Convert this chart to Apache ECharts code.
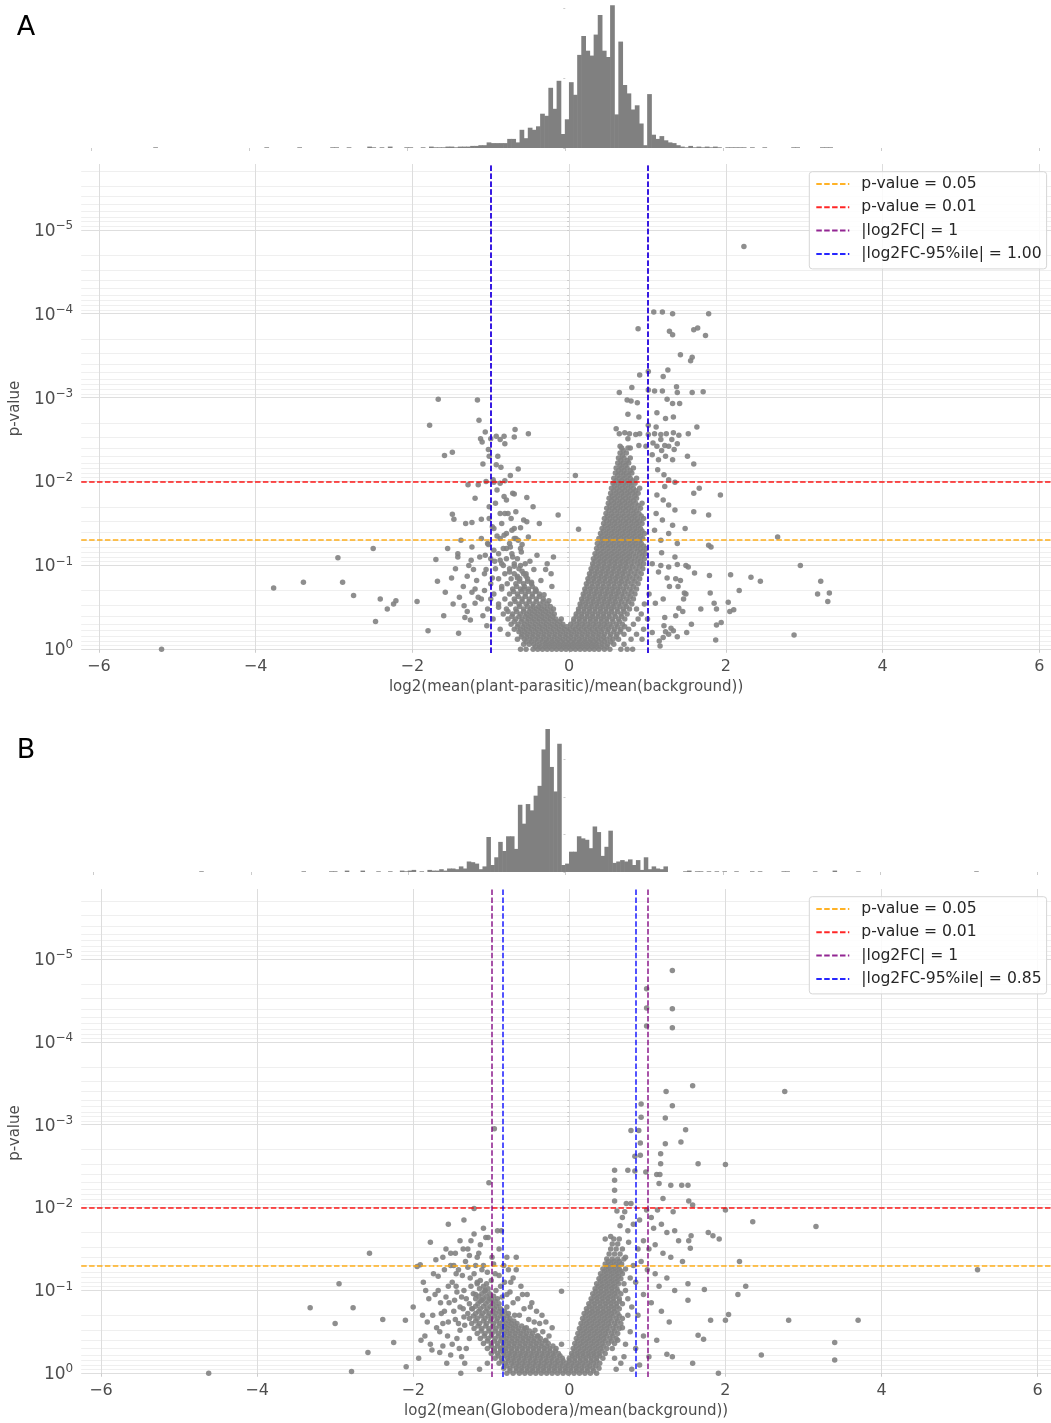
<!DOCTYPE html>
<html><head><meta charset="utf-8">
<script src="https://cdn.jsdelivr.net/npm/echarts@6/dist/echarts.min.js"></script>
<style>html,body{margin:0;padding:0;background:#fff}#c{width:1051px;height:1423px}</style>
</head><body><div id="c"></div>
<script>
// ---------------- DATA ----------------
const xTicks = [-6, -4, -2, 0, 2, 4, 6];
const yDecades = [0, 1, 2, 3, 4, 5];           // -log10(p) of labelled ticks
const pThresholds = [0.05, 0.01];
const fcThreshold = 1;
const fc95A = 1.00;
const fc95B = 0.85;
const xLabelA = 'log2(mean(plant-parasitic)/mean(background))';
const xLabelB = 'log2(mean(Globodera)/mean(background))';

// histogram A: bin start, width, counts
const histA_start = -5.268, histA_width = 0.0521;
const histA_counts = [0,1,0,0,0,0,0,0,0,0, 0,0,0,0,0,0,0,0,0,0, 0,0,0,0,0,0,0,0,1,0,
 0,0,0,0,0,0,1,0,0,0, 0,0,0,0,1,1,0,0,1,0, 0,0,0,2,1,0,1,0,2,0, 0,0,1,1,0,0,1,0,2,1,
 1,1,2,2,1,2,2,2,3,3, 4,4,
 8,7,7,7,7,13,13,8,26,14, 29,26,31,49,46,86,56,96,20,41, 94,76,133,160,139,132,162,190,139,130,
 204,48,152,90,78,55,61,35,4,77, 19,13,17,11,8,7,4,2,1,3, 1,
 2,1,2,1,2,1,0,1,1,1, 1,1,0,1,0,0,1,0,0,0, 0,0,0,1,1,0,0,0,0,0, 1,1,1];

// histogram B
const histB_start = -4.655, histB_width = 0.05;
const histB_counts = [1,0,0,0,0,0,0,0,0,0, 0,0,0,0,0,0,0,0,0,0, 0,0,0,0,0,0,1,0,0,0,
 0,0,0,1,1,0,0,2,0,0, 0,2,0,0,0,1,0,0,1,0, 0,2,1,
 2,3,0,1,0,3,2,2,4,2, 5,5,4,8,5,15,14,12,4,8, 50,10,21,43,30,51,51,33,96,69, 97,88,109,123,175,204,150,115,183,
 10,12,29,29,51,48,46,34,65,57, 23,36,59,13,15,17,15,18,10,17, 3,21,4,8,5,4,8,0,0,0, 0,1,2,
 0,1,1,0,1,0,1,0,1,0, 0,1,0,0,0,1,0,1,0,0, 0,0,0,1,1,0,0,0,0,0, 0,1,0,0,0,0,2,0,0,0,
 0,0,1,0,0,0,0,0,0,0, 0,0,0,0,0,0,0,0,0,0, 0,0,0,0,0,0,0,0,0,0, 0,0,1];
const histA_ticks = [0, 100, 200];
const histB_ticks = [0, 53.5, 107, 160.5];

// volcano A: dense rows [y, x1, x2, ...] and individual points [x, y]   (y = -log10 p)
const scatterA_rows = [
[0.00,-0.46,-0.40,-0.34,-0.28,-0.22,-0.16,-0.10,-0.04,0.02,0.08,0.14,0.20,0.26,0.32,0.38,0.45,0.52,-0.55,-0.62,0.66,0.74,0.81],
[0.03,-0.43,-0.37,-0.31,-0.25,-0.19,-0.13,-0.07,-0.01,0.05,0.11,0.17,0.23,0.29,0.35,0.41,0.48],
[0.06,-0.58,-0.51,-0.45,-0.38,-0.31,-0.25,-0.19,-0.13,-0.07,-0.01,0.05,0.11,0.17,0.23,0.29,0.35,0.42,0.49,0.57,0.70],
[0.09,-0.55,-0.48,-0.41,-0.34,-0.28,-0.22,-0.16,-0.10,-0.04,0.02,0.08,0.14,0.20,0.26,0.32,0.38,0.45,0.53],
[0.12,-0.66,-0.57,-0.50,-0.43,-0.36,-0.29,-0.22,-0.15,-0.08,-0.01,0.06,0.13,0.20,0.27,0.34,0.41,0.48,0.56,0.63,0.79,0.93],
[0.15,-0.61,-0.54,-0.47,-0.40,-0.33,-0.26,-0.19,-0.12,-0.05,0.02,0.09,0.16,0.23,0.30,0.37,0.44,0.52,0.60],
[0.18,-0.78,-0.60,-0.53,-0.46,-0.39,-0.32,-0.25,-0.18,-0.11,-0.04,0.03,0.10,0.17,0.24,0.31,0.38,0.45,0.53,0.61,0.70,0.86],
[0.21,-0.64,-0.57,-0.50,-0.43,-0.36,-0.29,-0.22,-0.15,-0.08,-0.01,0.06,0.13,0.20,0.27,0.34,0.41,0.49,0.57,0.65],
[0.24,-0.88,-0.70,-0.62,-0.55,-0.48,-0.41,-0.34,-0.27,-0.20,-0.13,-0.06,0.01,0.08,0.15,0.22,0.29,0.36,0.43,0.50,0.58,0.66,0.76,0.95],
[0.27,-0.66,-0.59,-0.52,-0.45,-0.38,-0.31,-0.24,-0.17,-0.10,-0.03,0.05,0.12,0.19,0.26,0.33,0.40,0.47,0.54,0.62,0.71],
[0.30,-0.74,-0.65,-0.57,-0.50,-0.43,-0.36,-0.29,-0.22,-0.15,-0.08,0.02,0.10,0.17,0.24,0.31,0.38,0.45,0.52,0.60,0.68,0.82],
[0.33,-0.70,-0.61,-0.54,-0.47,-0.40,-0.33,-0.26,-0.19,-0.12,0.06,0.13,0.20,0.27,0.34,0.41,0.48,0.56,0.64],
[0.36,-0.97,-0.78,-0.68,-0.60,-0.52,-0.45,-0.38,-0.31,-0.24,-0.17,-0.10,0.06,0.13,0.20,0.27,0.34,0.41,0.48,0.55,0.63,0.71,0.88,1.00],
[0.39,-0.73,-0.64,-0.56,-0.49,-0.42,-0.35,-0.28,-0.21,0.09,0.16,0.23,0.30,0.37,0.44,0.51,0.59,0.67],
[0.42,-0.84,-0.72,-0.62,-0.54,-0.47,-0.40,-0.33,-0.26,-0.19,0.09,0.16,0.23,0.30,0.37,0.44,0.51,0.58,0.66,0.74,0.92],
[0.45,-0.67,-0.58,-0.51,-0.44,-0.37,-0.30,-0.23,0.12,0.19,0.26,0.33,0.40,0.47,0.54,0.62,0.70],
[0.48,-1.04,-0.80,-0.68,-0.58,-0.49,-0.42,-0.35,-0.28,-0.20,0.12,0.19,0.26,0.33,0.40,0.47,0.54,0.61,0.69,0.77,0.86],
[0.51,-0.63,-0.53,-0.46,-0.39,-0.32,-0.24,0.15,0.22,0.29,0.36,0.43,0.50,0.57,0.65,0.73],
[0.54,-0.90,-0.75,-0.64,-0.55,-0.46,-0.37,-0.28,0.14,0.21,0.28,0.35,0.42,0.49,0.56,0.63,0.71,0.80,0.96],
[0.57,-0.69,-0.60,-0.51,-0.42,-0.33,0.17,0.24,0.31,0.38,0.45,0.52,0.59,0.67,0.76],
[0.60,-1.12,-0.82,-0.70,-0.60,-0.51,-0.42,-0.33,0.16,0.23,0.30,0.37,0.44,0.51,0.58,0.65,0.73,0.82],
[0.63,-0.65,-0.56,-0.47,-0.38,0.19,0.26,0.33,0.40,0.47,0.54,0.61,0.69,0.78],
[0.66,-0.96,-0.76,-0.66,-0.56,-0.47,-0.38,0.18,0.25,0.32,0.39,0.46,0.53,0.60,0.67,0.75,0.84,1.02],
[0.69,-0.71,-0.61,-0.52,-0.43,0.21,0.28,0.35,0.42,0.49,0.56,0.63,0.71,0.80],
[0.72,-1.20,-0.86,-0.72,-0.62,-0.52,-0.43,0.20,0.27,0.34,0.41,0.48,0.55,0.62,0.69,0.77,0.86],
[0.75,-0.67,-0.57,-0.47,0.23,0.30,0.37,0.44,0.51,0.58,0.65,0.73,0.82],
[0.78,-1.00,-0.79,-0.68,-0.58,-0.48,0.22,0.29,0.36,0.43,0.50,0.57,0.64,0.71,0.79,0.88],
[0.81,-0.63,-0.53,0.25,0.32,0.39,0.46,0.53,0.60,0.67,0.75,0.84],
[0.84,-0.90,-0.74,-0.63,-0.53,0.24,0.31,0.38,0.45,0.52,0.59,0.66,0.73,0.81,0.90],
[0.87,-0.66,-0.55,0.27,0.34,0.41,0.48,0.55,0.62,0.69,0.77,0.86],
[0.90,-1.08,-0.82,-0.70,-0.58,0.26,0.33,0.40,0.47,0.54,0.61,0.68,0.75,0.83,0.92],
[0.93,-0.60,0.29,0.36,0.43,0.50,0.57,0.64,0.71,0.79,0.88],
[0.96,-0.94,-0.76,-0.64,0.28,0.35,0.42,0.49,0.56,0.63,0.70,0.77,0.85,0.94],
[0.99,-0.70,0.31,0.38,0.45,0.52,0.59,0.66,0.73,0.81,0.90],
[1.02,-0.86,-0.70,-0.56,0.30,0.37,0.44,0.51,0.58,0.65,0.72,0.79,0.87,0.95],
[1.05,0.33,0.40,0.47,0.54,0.61,0.68,0.75,0.83,0.91],
[1.08,-1.00,-0.80,-0.66,0.31,0.38,0.45,0.52,0.59,0.66,0.73,0.80,0.88,0.96],
[1.11,0.35,0.42,0.49,0.56,0.63,0.70,0.77,0.85,0.93],
[1.14,-0.90,-0.73,0.33,0.40,0.47,0.54,0.61,0.68,0.75,0.82,0.90,0.97],
[1.17,0.37,0.44,0.51,0.58,0.65,0.72,0.79,0.87,0.94],
[1.20,-0.84,-0.62,0.35,0.42,0.49,0.56,0.63,0.70,0.77,0.84,0.91,0.98],
[1.23,0.39,0.46,0.53,0.60,0.67,0.74,0.81,0.88,0.95],
[1.26,-1.04,-0.76,0.36,0.43,0.50,0.57,0.64,0.71,0.78,0.85,0.92],
[1.29,0.41,0.48,0.55,0.62,0.69,0.76,0.83,0.90],
[1.32,-0.88,-0.68,0.38,0.45,0.52,0.59,0.66,0.73,0.80,0.87,0.94],
[1.35,0.42,0.49,0.56,0.63,0.70,0.77,0.84,0.91],
[1.38,-0.80,0.40,0.47,0.54,0.61,0.68,0.75,0.82,0.89,0.96],
[1.41,0.44,0.51,0.58,0.65,0.72,0.79,0.86,0.93],
[1.44,-0.96,-0.70,0.42,0.49,0.56,0.63,0.70,0.77,0.84,0.91],
[1.47,0.46,0.53,0.60,0.67,0.74,0.81,0.88],
[1.50,-0.86,0.44,0.51,0.58,0.65,0.72,0.79,0.86,0.93],
[1.53,0.48,0.55,0.62,0.69,0.76,0.83,0.90],
[1.56,-1.02,-0.74,0.45,0.52,0.59,0.66,0.73,0.80,0.87,0.95],
[1.59,0.49,0.56,0.63,0.70,0.77,0.84,0.92],
[1.62,-0.82,0.47,0.54,0.61,0.68,0.75,0.82,0.89],
[1.65,0.51,0.58,0.65,0.72,0.79,0.86],
[1.68,0.48,0.55,0.62,0.69,0.76,0.83,0.91],
[1.71,0.52,0.59,0.66,0.73,0.80,0.88],
[1.74,-0.94,0.50,0.57,0.64,0.71,0.78,0.85,0.93],
[1.77,0.54,0.61,0.68,0.75,0.82],
[1.80,0.51,0.58,0.65,0.72,0.79,0.86],
[1.83,0.55,0.62,0.69,0.76,0.84],
[1.86,-0.72,0.53,0.60,0.67,0.74,0.81,0.88],
[1.89,0.57,0.64,0.71,0.78,0.85],
[1.92,0.54,0.61,0.68,0.75,0.82,0.90],
[1.95,0.58,0.65,0.72,0.79],
[1.98,-0.88,0.56,0.63,0.70,0.77,0.84],
[2.01,0.60,0.67,0.74,0.81],
[2.04,0.57,0.64,0.71,0.78,0.86],
[2.07,0.62,0.69,0.76],
[2.10,0.59,0.66,0.73,0.80],
[2.13,0.63,0.70,0.78],
[2.16,0.60,0.67,0.74,0.82],
[2.19,0.65,0.72],
[2.22,0.62,0.69,0.76],
[2.25,0.66,0.74],
[2.28,0.63,0.70,0.78],
[2.31,0.68],
[2.34,0.65,0.73],
[2.40,0.67,0.75]
];
const scatterA_pts = [
[-5.20,0.00],[-3.77,0.73],[-3.39,0.80],[-2.95,1.09],[-2.89,0.80],[-2.75,0.64],[-2.50,1.20],[-2.41,0.60],[-2.47,0.33],[-2.32,0.48],[-2.24,0.54],[-2.21,0.58],
[-1.94,0.57],[-1.80,0.22],[-1.68,0.81],[-1.58,0.68],[-1.70,1.07],[-1.41,0.19],[-1.48,0.54],[-1.45,0.96],[-1.42,1.14],[-1.42,1.10],[-1.49,1.61],[-1.47,1.55],[-1.34,0.52],[-1.33,0.38],[-1.32,1.50],[-1.30,0.87],[-1.26,0.35],[-1.24,0.68],[-1.24,1.51],[-1.24,1.22],[-1.25,1.06],[-1.22,0.95],[-1.16,0.62],[-1.12,1.32],[-1.07,1.12],[-1.05,0.28],[-0.98,1.46],[-0.96,1.18],[-0.88,1.06],[-0.88,1.62],[-0.83,1.36],[-0.83,1.82],[-0.80,1.78],[-0.75,1.22],[-0.73,1.42],[-0.68,1.64],[-0.65,1.30],[-0.61,1.16],[-0.58,1.54],[-0.54,1.52],[-0.54,1.81],[-0.52,1.34],[-0.41,1.12],[-0.38,1.50],[-0.28,1.02],[-0.20,1.10],[-0.23,0.90],[-0.14,1.60],[0.12,1.43],[0.08,2.07],
[-1.35,0.75],[-1.30,0.45],[-1.28,1.00],[-1.20,0.55],[-1.18,0.82],[-1.14,1.10],[-1.10,0.40],[-1.08,0.70],[-1.06,0.95],[-1.03,1.25],[-1.00,0.60],[-0.98,0.85],[-0.95,1.05],[-0.92,1.35],[-0.90,0.50],[-0.86,0.75],[-0.84,1.00],[-0.80,1.20],[-0.78,0.45],[-0.76,0.92],[-0.72,1.10],[-0.70,1.32],[-0.66,0.85],[-0.62,1.00],[-0.60,1.25],[-0.58,0.72],[-0.55,0.90],[-0.50,1.05],[-0.48,0.80],[-0.45,0.95],[-0.42,0.70],[-0.36,0.82],[-0.32,0.65],[-0.30,0.95],[-0.26,0.58],[-0.22,0.75],[-1.12,1.55],[-1.02,1.70],[-0.92,1.90],[-0.78,1.62],[-0.70,1.85],[-0.62,1.45],[-0.46,1.70],[-1.20,1.80],[-1.38,1.30],[-1.55,1.20],[-1.60,0.40],[-1.50,0.85],[-1.40,0.62],
[-1.67,2.98],[-1.17,2.97],[-1.78,2.67],[-1.15,2.73],[-1.07,2.59],[-1.13,2.51],[-1.11,2.47],[-1.00,2.51],[-0.93,2.54],[-0.83,2.54],[-0.88,2.50],[-0.82,2.45],[-0.69,2.62],[-0.70,2.53],[-0.52,2.57],[-1.59,2.31],[-1.49,2.35],[-1.03,2.38],[-0.91,2.30],[-1.02,2.30],[-1.10,2.21],[-0.93,2.20],[-0.87,2.17],[-0.65,2.15],[-0.75,2.07],[-0.97,2.02],[-0.82,2.01],[-1.29,1.96],[-1.16,1.96],[-1.06,2.00],[-0.96,1.99],
[2.23,4.80],[1.08,4.02],[1.19,4.02],[1.32,4.00],[1.78,4.00],[0.88,3.82],[1.28,3.79],[1.32,3.75],[1.59,3.81],[1.64,3.83],[1.74,3.74],[1.42,3.51],[1.57,3.48],[1.55,3.44],[0.90,3.27],[1.26,3.33],[1.20,3.25],[1.01,3.31],[0.64,3.06],[0.80,3.12],[1.01,3.09],[1.09,3.08],[1.19,3.08],[1.37,3.13],[1.38,3.06],[1.57,3.06],[1.71,3.07],[0.74,2.97],[0.79,2.96],[0.87,2.94],[1.25,2.98],[1.32,2.93],[1.41,2.93],[1.12,2.82],[0.75,2.80],[0.89,2.77],[1.23,2.75],[1.33,2.77],[1.11,2.65],[1.63,2.65],[1.01,2.67],[0.60,2.63],
[0.64,2.57],[0.71,2.58],[0.77,2.57],[0.85,2.56],[0.90,2.57],[1.01,2.56],[1.09,2.57],[1.17,2.56],[1.24,2.57],[1.33,2.58],[1.40,2.55],[1.52,2.57],
[0.75,2.51],[1.17,2.50],[1.31,2.50],[1.07,2.46],[1.22,2.43],[1.38,2.45],[0.65,2.42],[0.69,2.37],[0.78,2.40],[0.89,2.43],[0.98,2.42],[1.12,2.42],[1.27,2.42],[1.34,2.38],[1.18,2.37],
[1.06,2.32],[1.14,2.26],[1.23,2.30],[1.32,2.26],[1.51,2.30],[1.59,2.21],[1.13,2.14],[1.21,2.08],[1.27,2.02],[1.35,1.99],[1.59,1.86],[1.66,1.92],[1.22,1.94],
[1.12,1.84],[1.20,1.78],[1.27,1.72],[1.35,1.66],[1.11,1.62],[1.59,1.64],[1.78,1.60],[1.19,1.54],[1.32,1.48],[1.48,1.44],[1.09,1.42],[1.27,1.38],[1.17,1.30],[1.38,1.26],[1.78,1.24],[1.81,1.22],[1.93,1.84],
[1.06,1.02],[1.17,1.00],[1.27,0.98],[1.38,1.01],[1.49,1.00],[1.36,0.84],[1.39,0.75],[1.49,0.66],[1.47,0.67],[1.40,0.49],[1.21,0.28],[1.23,0.21],[1.33,0.22],[1.16,0.04],[1.20,0.14],[1.60,0.91],[1.79,0.88],
[1.06,0.20],[1.10,0.55],[1.14,0.92],[1.18,1.15],[1.22,0.38],[1.28,0.75],[1.35,1.10],[1.38,0.15],[1.46,0.60],[1.52,0.98],[1.56,0.30],[1.68,0.48],[1.80,0.67],[1.85,0.55],[1.25,0.85],[1.42,0.82],[1.45,0.45],[1.20,0.60],[1.30,0.25],[1.15,0.10],[1.36,0.40],[1.27,0.18],[1.50,0.20],
[2.66,1.34],[2.95,1.00],[2.87,0.17],[3.21,0.81],[3.17,0.66],[3.32,0.67],[3.30,0.57],[2.32,0.86],[2.44,0.81],[2.17,0.70],[2.06,0.89],[2.03,0.56],[2.10,0.47],[2.05,0.45],[1.88,0.48],[1.94,0.32],[1.88,0.29],[1.87,0.11]
];

// volcano B
const scatterB_rows = [
[0.00,-0.80,-0.72,-0.64,-0.57,-0.50,-0.43,-0.36,-0.29,-0.22,-0.15,-0.08,-0.01,0.06,0.13,0.20,0.27,0.35],
[0.03,-0.76,-0.68,-0.61,-0.54,-0.47,-0.40,-0.33,-0.26,-0.19,-0.12,-0.05,0.02,0.09,0.16,0.23,0.31],
[0.06,-0.84,-0.76,-0.68,-0.61,-0.54,-0.47,-0.40,-0.33,-0.26,-0.19,-0.12,-0.05,0.02,0.09,0.16,0.23,0.30,0.38],
[0.09,-0.80,-0.72,-0.65,-0.58,-0.51,-0.44,-0.37,-0.30,-0.23,-0.16,-0.09,-0.02,0.05,0.12,0.19,0.26,0.34],
[0.12,-0.90,-0.82,-0.74,-0.67,-0.60,-0.53,-0.46,-0.39,-0.32,-0.25,-0.18,-0.11,-0.04,0.03,0.10,0.17,0.24,0.31,0.39],
[0.15,-0.86,-0.78,-0.71,-0.64,-0.57,-0.50,-0.43,-0.36,-0.29,-0.22,-0.15,-0.08,0.00,0.07,0.14,0.21,0.28,0.35],
[0.18,-0.95,-0.87,-0.79,-0.72,-0.65,-0.58,-0.51,-0.44,-0.37,-0.30,-0.23,-0.16,-0.09,0.00,0.07,0.14,0.21,0.28,0.35,0.43],
[0.21,-0.91,-0.83,-0.76,-0.69,-0.62,-0.55,-0.48,-0.41,-0.34,-0.27,-0.20,-0.12,0.04,0.11,0.18,0.25,0.32,0.39],
[0.24,-1.00,-0.92,-0.84,-0.77,-0.70,-0.63,-0.56,-0.49,-0.42,-0.35,-0.28,-0.21,-0.14,0.03,0.10,0.17,0.24,0.31,0.38,0.46],
[0.27,-0.96,-0.88,-0.81,-0.74,-0.67,-0.60,-0.53,-0.46,-0.39,-0.32,-0.25,-0.18,0.07,0.14,0.21,0.28,0.35,0.42],
[0.30,-1.05,-0.96,-0.88,-0.81,-0.74,-0.67,-0.60,-0.53,-0.46,-0.39,-0.32,-0.25,-0.17,0.05,0.12,0.19,0.26,0.33,0.40,0.48],
[0.33,-1.00,-0.92,-0.85,-0.78,-0.71,-0.64,-0.57,-0.50,-0.43,-0.36,-0.29,-0.21,0.09,0.16,0.23,0.30,0.37,0.44],
[0.36,-1.10,-1.00,-0.92,-0.84,-0.77,-0.70,-0.63,-0.56,-0.49,-0.42,-0.35,-0.27,0.07,0.14,0.21,0.28,0.35,0.42,0.50,0.58],
[0.39,-1.05,-0.96,-0.88,-0.81,-0.74,-0.67,-0.60,-0.53,-0.46,-0.39,-0.31,0.11,0.18,0.25,0.32,0.39,0.46,0.54],
[0.42,-1.14,-1.04,-0.95,-0.87,-0.80,-0.73,-0.66,-0.59,-0.52,-0.45,-0.37,0.09,0.16,0.23,0.30,0.37,0.44,0.52,0.60],
[0.45,-1.09,-1.00,-0.91,-0.84,-0.77,-0.70,-0.63,-0.56,-0.49,-0.41,0.13,0.20,0.27,0.34,0.41,0.48,0.56],
[0.48,-1.18,-1.08,-0.99,-0.91,-0.83,-0.76,-0.69,-0.62,-0.55,-0.47,0.11,0.18,0.25,0.32,0.39,0.46,0.54,0.62],
[0.51,-1.13,-1.03,-0.95,-0.87,-0.80,-0.73,-0.66,-0.59,-0.51,0.15,0.22,0.29,0.36,0.43,0.50,0.58],
[0.54,-1.22,-1.12,-1.03,-0.94,-0.86,-0.79,-0.72,-0.65,-0.57,0.13,0.20,0.27,0.34,0.41,0.48,0.56,0.64],
[0.57,-1.17,-1.07,-0.98,-0.90,-0.83,-0.76,-0.69,-0.61,0.17,0.24,0.31,0.38,0.45,0.52,0.60],
[0.60,-1.25,-1.15,-1.06,-0.97,-0.89,-0.81,-0.74,-0.67,0.15,0.22,0.29,0.36,0.43,0.50,0.58,0.66],
[0.63,-1.20,-1.10,-1.01,-0.93,-0.85,-0.78,-0.71,0.19,0.26,0.33,0.40,0.47,0.54,0.62],
[0.66,-1.28,-1.18,-1.08,-1.00,-0.92,-0.84,-0.76,0.17,0.24,0.31,0.38,0.45,0.52,0.60,0.68],
[0.69,-1.23,-1.13,-1.04,-0.96,-0.88,-0.80,0.21,0.28,0.35,0.42,0.49,0.56,0.64],
[0.72,-1.30,-1.20,-1.11,-1.02,-0.94,-0.86,-0.78,0.19,0.26,0.33,0.40,0.47,0.54,0.62],
[0.75,-1.16,-1.07,-0.98,-0.90,-0.83,0.23,0.30,0.37,0.44,0.51,0.58],
[0.78,-1.25,-1.14,-1.05,-0.96,-0.88,0.22,0.29,0.36,0.43,0.50,0.57,0.64],
[0.81,-1.20,-1.10,-1.01,-0.93,0.26,0.33,0.40,0.47,0.54,0.61],
[0.84,-1.28,-1.17,-1.07,-0.98,-0.90,0.25,0.32,0.39,0.46,0.53,0.60,0.68],
[0.87,-1.14,-1.04,-0.95,0.29,0.36,0.43,0.50,0.57,0.64],
[0.90,-1.20,-1.10,-1.00,-0.92,0.28,0.35,0.42,0.49,0.56,0.64],
[0.93,-1.16,-1.06,-0.97,0.32,0.39,0.46,0.53,0.60],
[0.96,-1.23,-1.12,-1.02,0.30,0.37,0.44,0.51,0.58,0.66],
[0.99,-1.08,0.34,0.41,0.48,0.55,0.62],
[1.02,-1.15,-1.04,0.33,0.40,0.47,0.54,0.61],
[1.05,-1.10,0.37,0.44,0.51,0.58],
[1.08,-1.18,-1.06,0.35,0.42,0.49,0.56,0.63,0.70],
[1.11,0.40,0.47,0.54,0.61],
[1.14,0.38,0.45,0.52,0.59,0.66],
[1.17,0.42,0.49,0.56,0.63],
[1.20,0.40,0.47,0.54,0.61,0.68],
[1.23,0.45,0.52,0.59,0.66],
[1.26,0.43,0.50,0.57,0.64,0.72],
[1.29,0.48,0.55,0.62],
[1.32,0.46,0.53,0.60,0.67],
[1.35,0.50,0.57,0.64],
[1.38,0.48,0.55,0.62,0.70],
[1.44,0.51,0.58,0.65],
[1.50,0.53,0.60,0.68],
[1.56,0.55,0.62],
[1.62,0.57,0.64]
];
const scatterB_pts = [
[-4.62,0.00],[-3.32,0.79],[-2.95,1.08],[-2.77,0.79],[-3.00,0.60],[-2.56,1.45],[-2.39,0.65],[-2.25,0.37],[-2.58,0.25],[-2.79,0.02],[-2.10,0.64],[-2.09,0.08],[-1.39,0.00],
[-2.00,0.80],[-1.95,1.29],[-1.90,0.40],[-1.87,1.10],[-1.82,0.62],[-1.78,1.58],[-1.76,0.28],[-1.72,0.95],[-1.71,1.37],[-1.66,0.50],[-1.62,1.40],[-1.60,0.75],[-1.57,0.12],[-1.55,1.05],[-1.52,1.45],[-1.50,0.35],[-1.47,0.88],[-1.45,1.20],[-1.42,0.60],[-1.40,1.60],[-1.38,0.20],[-1.35,1.00],[-1.33,1.35],[-1.30,1.50],[-1.27,1.15],[-1.22,1.68],[-1.22,1.99],[-1.20,1.30],[-1.16,1.45],[-1.12,1.25],[-1.07,1.64],[-1.04,1.64],[-1.03,2.30],[-0.96,2.95],[-0.99,1.40],[-0.95,1.20],[-0.92,1.72],[-0.87,1.72],[-0.88,1.05],[-0.84,1.30],[-0.80,0.95],[-0.75,1.10],[-0.72,0.85],[-0.68,1.25],[-0.64,0.70],[-0.60,0.95],[-0.55,0.55],[-0.50,0.80],[-0.45,0.62],[-0.40,0.45],[-0.35,0.70],[-0.30,0.40],[-0.22,0.55],[-0.10,0.35],[-0.10,0.99],[-1.62,0.33],[-1.85,0.45],[-1.93,0.18],[-1.91,1.31],[-1.68,1.17],[-1.58,0.92],[-1.48,1.30],[-1.44,0.42],[-1.36,0.78],[-1.34,0.12],[-1.15,0.05],[-1.05,0.12],[-1.18,1.10],
[-1.75,0.70],[-1.65,0.85],[-1.55,0.62],[-1.48,0.75],[-1.40,0.52],[-1.52,0.22],[-1.45,1.05],[-1.38,0.92],[-1.35,0.68],[-1.32,0.30],
[-1.80,0.90],[-1.70,0.55],[-1.68,1.00],[-1.64,0.72],[-1.60,1.25],[-1.56,0.45],[-1.54,0.85],[-1.50,1.10],[-1.46,0.65],[-1.44,0.98],[-1.41,0.30],[-1.40,0.80],[-1.37,1.18],[-1.34,0.58],[-1.32,0.90],[-1.30,1.28],[-1.28,0.42],[-1.26,1.05],[-1.24,0.78],[-1.22,1.20],[-1.20,0.95],[-1.18,1.40],[-1.14,1.12],[-1.12,0.88],[-1.10,1.30],[-1.08,1.00],[-1.05,1.22],[-1.02,0.90],[-1.00,1.12],[-0.97,1.32],[-0.94,1.00],[-0.90,1.18],[-0.86,0.92],[-0.83,1.10],[-0.80,0.80],[-0.78,1.25],[-0.76,0.98],[-0.72,1.15],[-0.70,0.70],[-0.66,0.90],[-0.62,1.05],[-0.58,0.78],[-0.54,0.95],[-0.52,0.65],[-0.48,0.85],[-0.44,0.52],[-0.42,0.75],[-0.38,0.60],[-0.34,0.50],[-0.30,0.62],[-0.26,0.45],[-1.88,0.70],[-1.84,1.00],[-1.78,0.35],[-1.74,1.20],[-1.66,0.25],[-1.62,0.60],[-1.58,1.50],[-1.52,1.30],[-1.46,1.45],[-1.42,1.25],[-1.36,1.50],[-1.28,1.42],[-1.26,1.60],[-1.14,1.55],[-0.90,1.50],[-0.80,1.40],[-0.68,1.40],[-1.10,1.75],[-1.35,1.85],[-1.55,1.80],
[1.32,4.86],[1.32,4.40],[1.32,4.17],[0.99,4.64],[0.99,4.41],[0.99,4.19],[1.58,3.47],[2.76,3.40],[1.24,3.40],[1.32,3.23],[1.23,3.08],[0.92,3.25],[0.92,3.09],[0.79,2.93],[0.89,2.93],[1.49,2.94],[1.23,2.77],[1.43,2.79],[0.91,2.78],[0.84,2.62],[0.91,2.63],[1.17,2.65],[1.65,2.53],[2.00,2.52],[1.17,2.53],
[0.58,2.45],[0.75,2.45],[0.84,2.44],[0.98,2.43],[1.12,2.40],[1.16,2.40],[0.58,2.33],[1.15,2.29],[1.30,2.27],[1.44,2.27],[1.52,2.27],[0.58,2.21],[1.20,2.11],[0.58,2.08],[0.73,2.05],[0.79,2.05],[1.53,2.08],[1.58,2.03],[0.61,1.96],[0.71,1.95],[0.99,1.97],[1.13,1.97],[1.33,1.95],[2.00,1.97],[2.35,1.83],[3.16,1.77],[1.78,1.70],[1.84,1.66],[1.92,1.62],[1.56,1.66],[1.55,1.51],[1.53,1.60],[0.46,1.62],[0.53,1.65],[0.65,1.78],[0.68,1.88],[0.75,1.72],[0.82,1.80],[0.90,1.85],[1.05,1.88],[1.08,1.75],[1.18,1.80],[1.25,1.70],[1.35,1.72],[1.40,1.60],[0.95,1.60],[1.02,1.50],[1.10,1.55],[1.20,1.45],[1.30,1.40],[1.45,1.35],[0.92,1.35],[1.00,1.25],[1.10,1.20],[1.15,1.05],[1.25,1.15],[1.35,1.00],[0.85,1.10],[0.95,0.95],[1.05,0.85],[1.18,0.75],[1.28,0.62],[0.88,0.70],[0.78,0.50],[0.85,0.30],[0.95,0.45],[1.02,0.20],[1.12,0.40],[0.70,0.20],[0.60,0.05],[0.80,0.05],[0.90,0.10],[1.32,0.20],[1.25,0.23],[1.58,0.12],[1.91,0.00],[1.65,0.46],[1.72,0.41],[1.52,1.08],[1.52,0.88],[1.73,1.01],[2.18,1.35],[2.26,1.05],[2.16,0.95],[2.00,0.64],[2.04,0.71],[1.81,0.64],[2.81,0.64],[3.70,0.64],[3.40,0.37],[3.40,0.16],[2.46,0.22],[5.23,1.25],
[0.55,0.30],[0.62,0.40],[0.68,0.55],[0.72,0.35],[0.75,0.70],[0.66,0.12],[0.58,0.18],[0.75,0.90],[0.80,0.80],[0.72,1.00],[0.82,1.30],[0.78,1.15],[0.88,1.50],[0.72,1.40],[0.76,1.58]
];

// ---------------- BUILD ----------------
const FONT = 'DejaVu Sans';
const LBL = '#4d4d4d';
function rowsToPts(rows){const out=[];rows.forEach(r=>{for(let i=1;i<r.length;i++)out.push([r[i],r[0]]);});return out;}
function histData(start,w,counts){const out=[];counts.forEach((c,i)=>{if(c>0)out.push([start+i*w,start+(i+1)*w,c]);});return out;}
// log-scale gridline positions (major decade + minor 2..9) in -log10(p)
const yGridVals=[];
yDecades.forEach(k=>{yGridVals.push(k);for(let m=9;m>=2;m--)yGridVals.push(k+1-Math.log10(m));});
const gridColors=['#dedede','#efefef','#efefef','#efefef','#efefef','#efefef','#efefef','#efefef','#efefef'];

const dash=[5.5,2.4];
const panels=[
 {hist:{top:0,h:148,max:211.4,ticks:histA_ticks}, sc:{top:164,h:489,ymin:-0.044,ymax:5.784}, left:73.5, xmin:-6.225, xmax:6.148,
  histStart:histA_start,histW:histA_width,histC:histA_counts, rows:scatterA_rows, pts:scatterA_pts, fc95:fc95A, xname:xLabelA, legTop:171.7, letter:'A', letterY:28},
 {hist:{top:720,h:152,max:217,ticks:histB_ticks}, sc:{top:889,h:488,ymin:-0.045,ymax:5.845}, left:73.5, xmin:-6.253, xmax:6.171,
  histStart:histB_start,histW:histB_width,histC:histB_counts, rows:scatterB_rows, pts:scatterB_pts, fc95:fc95B, xname:xLabelB, legTop:896.7, letter:'B', letterY:751}
];

const grid=[],xAxis=[],yAxis=[],series=[],legend=[],graphic=[];
panels.forEach((P,pi)=>{
 const gH=grid.length, gS=gH+1;
 grid.push({left:P.left,right:0,top:P.hist.top,height:P.hist.h});
 grid.push({left:P.left,right:0,top:P.sc.top,height:P.sc.h});
 xAxis.push({type:'value',gridIndex:gH,min:P.xmin,max:P.xmax,axisLine:{show:false},splitLine:{show:false},
   axisTick:{show:true,customValues:xTicks,length:3,lineStyle:{color:'#cccccc'}},axisLabel:{show:false}});
 yAxis.push({type:'value',gridIndex:gH,min:0,max:P.hist.max,axisLine:{show:false},splitLine:{show:false},
   axisTick:{show:true,customValues:P.hist.ticks,length:2,lineStyle:{color:'#cccccc'}},axisLabel:{show:false}});
 xAxis.push({type:'value',gridIndex:gS,min:P.xmin,max:P.xmax,axisLine:{show:false},
   axisTick:{show:true,customValues:xTicks,length:3,lineStyle:{color:'#cccccc'}},
   splitLine:{show:true,lineStyle:{color:'#dddddd',width:1}},
   axisLabel:{customValues:xTicks,margin:6,fontFamily:FONT,fontSize:16,color:LBL,formatter:v=>(v<0?'\u2212':'')+Math.abs(v)},
   name:P.xname,nameLocation:'middle',nameGap:27,nameTextStyle:{fontFamily:FONT,fontSize:15,color:LBL}});
 yAxis.push({type:'value',gridIndex:gS,min:P.sc.ymin,max:P.sc.ymax,axisLine:{show:false},
   axisTick:{show:true,customValues:yGridVals,length:2,lineStyle:{color:'#cccccc'}},
   splitLine:{show:true,lineStyle:{color:gridColors,width:1}},
   axisLabel:{customValues:yDecades,margin:8,formatter:v=>'{b|10}{s|'+(v===0?'0':'\u2212'+v)+'}',
     rich:{b:{fontFamily:FONT,fontSize:17,color:LBL,lineHeight:20,verticalAlign:'bottom'},
           s:{fontFamily:FONT,fontSize:12,color:LBL,lineHeight:10,verticalAlign:'top'}}},
   name:'p-value',nameLocation:'middle',nameGap:47,nameRotate:90,nameTextStyle:{fontFamily:FONT,fontSize:15,color:LBL}});
 const xi=xAxis.length-1, yi=yAxis.length-1;
 series.push({type:'custom',xAxisIndex:xi-1,yAxisIndex:yi-1,silent:true,encode:{x:[0,1],y:2},
   data:histData(P.histStart,P.histW,P.histC),
   renderItem:(params,api)=>{const a=api.coord([api.value(0),api.value(2)]);const b=api.coord([api.value(1),0]);
     return {type:'rect',shape:{x:a[0],y:a[1],width:b[0]-a[0]+0.6,height:b[1]-a[1]},style:{fill:'#808080'}};}});
 series.push({type:'scatter',xAxisIndex:xi,yAxisIndex:yi,silent:true,z:2,symbolSize:5.5,
   itemStyle:{color:'#828282',opacity:0.9},data:rowsToPts(P.rows).concat(P.pts)});
 const mk=(name,color,mdata)=>({name,type:'line',xAxisIndex:xi,yAxisIndex:yi,data:[],symbol:'none',z:4,
   lineStyle:{color,width:1.5,type:dash,opacity:0.85},itemStyle:{color},
   markLine:{silent:true,symbol:'none',label:{show:false},animation:false,
     lineStyle:{color,width:1.5,type:dash,opacity:0.9},data:mdata}});
 series.push(mk('p-value = 0.05','#FFA500',[{yAxis:-Math.log10(pThresholds[0])}]));
 series.push(mk('p-value = 0.01','#FF0000',[{yAxis:-Math.log10(pThresholds[1])}]));
 series.push(mk('|log2FC| = 1','#800080',[{xAxis:-fcThreshold},{xAxis:fcThreshold}]));
 const n95='|log2FC-95%ile| = '+P.fc95.toFixed(2);
 series.push(mk(n95,'#0000FF',[{xAxis:-P.fc95},{xAxis:P.fc95}]));
 legend.push({orient:'vertical',left:809.3,top:P.legTop,selectedMode:false,
   data:['p-value = 0.05','p-value = 0.01','|log2FC| = 1',n95],
   itemWidth:33,itemHeight:18,itemGap:5.3,padding:[3.3,5,6,6],
   itemStyle:{opacity:0,borderWidth:0},
   backgroundColor:'rgba(255,255,255,0.85)',borderColor:'#d6d6d6',borderWidth:1,borderRadius:3,
   textStyle:{fontFamily:FONT,fontSize:15.6,color:'#262626',lineHeight:18,padding:[0,0,0,7]}});
 graphic.push({type:'text',x:26,y:P.letterY,style:{text:P.letter,fontFamily:FONT,fontSize:27,fill:'#000',textAlign:'center',textVerticalAlign:'middle'}});
});

const chart=echarts.init(document.getElementById('c'),null,{renderer:'canvas'});
chart.setOption({animation:false,backgroundColor:'#fff',grid,xAxis,yAxis,series,legend,graphic});
</script></body></html>
